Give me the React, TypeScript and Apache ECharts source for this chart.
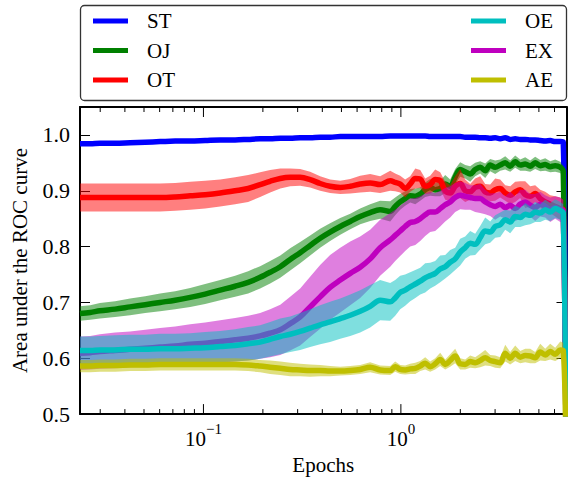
import { useEffect, useRef } from 'react';
import * as echarts from 'echarts';

// x positions (epochs), shared by every series
const epochs = [
  0.0237, 0.0267, 0.0299, 0.0357, 0.0425, 0.0507, 0.0603, 0.0719, 0.0857, 0.102,
  0.1216, 0.1447, 0.1684, 0.1937, 0.2177, 0.245, 0.275, 0.309, 0.347, 0.39,
  0.438, 0.493, 0.554, 0.622, 0.699, 0.785, 0.883, 0.936,
  0.992, 1.051, 1.115, 1.183, 1.253, 1.328, 1.407, 1.492, 1.582, 1.677,
  1.777, 1.884, 1.997, 2.117, 2.244, 2.379, 2.522, 2.674, 2.834, 3.004,
  3.185, 3.377, 3.579, 3.794, 4.022, 4.264, 4.52, 4.789, 5.08, 5.383,
  5.708, 6.048, 6.414, 6.642, 6.87,
];

const stMean = [
  0.984, 0.984, 0.985, 0.985, 0.986, 0.987, 0.988, 0.989, 0.989, 0.990,
  0.991, 0.991, 0.992, 0.993, 0.993, 0.994, 0.994, 0.995, 0.995, 0.996,
  0.996, 0.997, 0.997, 0.997, 0.997, 0.997, 0.998, 0.998,
  0.998, 0.998, 0.998, 0.998, 0.998, 0.998, 0.997, 0.997, 0.997, 0.997,
  0.997, 0.997, 0.997, 0.996, 0.996, 0.996, 0.995, 0.995, 0.994, 0.995,
  0.993, 0.995, 0.992, 0.993, 0.992, 0.992, 0.991, 0.991, 0.990, 0.989,
  0.990, 0.988, 0.988, 0.987, 0.40,
];
const stErr = [
  0.003, 0.003, 0.003, 0.003, 0.003, 0.003, 0.003, 0.003, 0.003, 0.003,
  0.003, 0.003, 0.003, 0.003, 0.003, 0.003, 0.003, 0.003, 0.003, 0.003,
  0.003, 0.003, 0.003, 0.003, 0.003, 0.003, 0.003, 0.003,
  0.003, 0.003, 0.003, 0.003, 0.003, 0.003, 0.003, 0.003, 0.003, 0.003,
  0.003, 0.003, 0.003, 0.003, 0.003, 0.003, 0.003, 0.003, 0.004, 0.003,
  0.004, 0.003, 0.004, 0.003, 0.004, 0.003, 0.004, 0.003, 0.004, 0.004,
  0.003, 0.004, 0.004, 0.004, 0,
];

const ojMean = [
  0.680, 0.682, 0.685, 0.688, 0.692, 0.696, 0.700, 0.704, 0.709, 0.715,
  0.722, 0.729, 0.736, 0.745, 0.754, 0.764, 0.777, 0.789, 0.802, 0.815,
  0.826, 0.836, 0.845, 0.854, 0.861, 0.866, 0.863, 0.872,
  0.880, 0.886, 0.891, 0.890, 0.894, 0.902, 0.906, 0.902, 0.904, 0.912,
  0.908, 0.925, 0.938, 0.934, 0.930, 0.938, 0.942, 0.936, 0.946, 0.942,
  0.946, 0.950, 0.944, 0.952, 0.946, 0.948, 0.944, 0.950, 0.945, 0.947,
  0.943, 0.945, 0.942, 0.935, 0.40,
];
const ojErr = [
  0.013, 0.013, 0.014, 0.014, 0.015, 0.015, 0.016, 0.016, 0.017, 0.018,
  0.018, 0.019, 0.020, 0.020, 0.020, 0.020, 0.020, 0.019, 0.018, 0.017,
  0.016, 0.015, 0.014, 0.014, 0.015, 0.016, 0.018, 0.016,
  0.014, 0.013, 0.012, 0.014, 0.012, 0.013, 0.015, 0.012, 0.014, 0.016,
  0.012, 0.014, 0.013, 0.012, 0.014, 0.012, 0.011, 0.013, 0.011, 0.012,
  0.010, 0.012, 0.010, 0.011, 0.010, 0.012, 0.010, 0.011, 0.010, 0.011,
  0.010, 0.011, 0.010, 0.010, 0,
];

const otMean = [
  0.888, 0.888, 0.888, 0.888, 0.888, 0.888, 0.888, 0.889, 0.891, 0.893,
  0.896, 0.900, 0.904, 0.911, 0.917, 0.922, 0.924, 0.924, 0.920, 0.913,
  0.908, 0.906, 0.908, 0.912, 0.914, 0.911, 0.918, 0.915,
  0.912, 0.904, 0.912, 0.922, 0.921, 0.908, 0.911, 0.920, 0.918, 0.900,
  0.896, 0.908, 0.913, 0.900, 0.898, 0.906, 0.908, 0.898, 0.896, 0.902,
  0.904, 0.896, 0.892, 0.898, 0.902, 0.893, 0.890, 0.895, 0.886, 0.880,
  0.876, 0.872, 0.868, 0.866, 0.40,
];
const otErr = [
  0.025, 0.025, 0.025, 0.025, 0.025, 0.025, 0.025, 0.025, 0.025, 0.025,
  0.024, 0.024, 0.024, 0.022, 0.020, 0.018, 0.016, 0.015, 0.014, 0.013,
  0.012, 0.012, 0.013, 0.015, 0.016, 0.015, 0.018, 0.016,
  0.015, 0.016, 0.014, 0.018, 0.016, 0.014, 0.016, 0.018, 0.015, 0.016,
  0.014, 0.018, 0.026, 0.020, 0.014, 0.016, 0.018, 0.014, 0.015, 0.020,
  0.016, 0.014, 0.016, 0.018, 0.015, 0.024, 0.018, 0.015, 0.016, 0.018,
  0.016, 0.018, 0.020, 0.018, 0,
];

const exMean = [
  0.609, 0.610, 0.612, 0.614, 0.616, 0.618, 0.620, 0.622, 0.625, 0.627,
  0.630, 0.633, 0.636, 0.640, 0.645, 0.651, 0.662, 0.674, 0.692, 0.710,
  0.727, 0.740, 0.752, 0.763, 0.778, 0.798, 0.812, 0.820,
  0.828, 0.836, 0.843, 0.845, 0.850, 0.857, 0.862, 0.862, 0.868, 0.875,
  0.880, 0.888, 0.892, 0.890, 0.888, 0.886, 0.886, 0.880, 0.875, 0.872,
  0.876, 0.870, 0.874, 0.868, 0.876, 0.880, 0.874, 0.870, 0.876, 0.872,
  0.866, 0.870, 0.866, 0.864, 0.40,
];
const exErr = [
  0.030, 0.030, 0.031, 0.032, 0.032, 0.033, 0.034, 0.035, 0.036, 0.037,
  0.038, 0.039, 0.040, 0.041, 0.043, 0.045, 0.048, 0.051, 0.054, 0.057,
  0.058, 0.058, 0.057, 0.055, 0.052, 0.050, 0.048, 0.046,
  0.045, 0.044, 0.043, 0.042, 0.040, 0.038, 0.036, 0.034, 0.032, 0.030,
  0.028, 0.026, 0.025, 0.024, 0.022, 0.024, 0.026, 0.022, 0.020, 0.024,
  0.022, 0.020, 0.024, 0.022, 0.026, 0.022, 0.020, 0.024, 0.022, 0.020,
  0.022, 0.020, 0.022, 0.020, 0,
];

const oeMean = [
  0.614, 0.614, 0.615, 0.615, 0.616, 0.616, 0.617, 0.617, 0.618, 0.619,
  0.621, 0.623, 0.626, 0.629, 0.634, 0.639, 0.643, 0.648, 0.654, 0.660,
  0.665, 0.671, 0.677, 0.684, 0.693, 0.704, 0.701, 0.708,
  0.718, 0.722, 0.728, 0.733, 0.738, 0.744, 0.748, 0.752, 0.760, 0.764,
  0.772, 0.778, 0.790, 0.798, 0.806, 0.804, 0.816, 0.828, 0.826, 0.836,
  0.839, 0.848, 0.844, 0.854, 0.852, 0.858, 0.856, 0.862, 0.860, 0.866,
  0.862, 0.868, 0.864, 0.860, 0.40,
];
const oeErr = [
  0.025, 0.025, 0.025, 0.026, 0.026, 0.026, 0.027, 0.027, 0.027, 0.028,
  0.028, 0.029, 0.030, 0.030, 0.031, 0.032, 0.032, 0.033, 0.034, 0.035,
  0.036, 0.036, 0.037, 0.038, 0.038, 0.036, 0.034, 0.032,
  0.030, 0.028, 0.026, 0.025, 0.024, 0.026, 0.023, 0.022, 0.024, 0.021,
  0.022, 0.020, 0.024, 0.020, 0.022, 0.019, 0.021, 0.024, 0.019, 0.020,
  0.022, 0.018, 0.020, 0.019, 0.017, 0.020, 0.016, 0.018, 0.016, 0.018,
  0.016, 0.017, 0.016, 0.016, 0,
];

const aeMean = [
  0.586, 0.586, 0.587, 0.587, 0.588, 0.588, 0.589, 0.589, 0.589, 0.589,
  0.589, 0.589, 0.588, 0.586, 0.584, 0.582, 0.580, 0.579, 0.578, 0.578,
  0.577, 0.577, 0.578, 0.580, 0.584, 0.579, 0.578, 0.585,
  0.580, 0.579, 0.581, 0.582, 0.586, 0.591, 0.585, 0.590, 0.598, 0.589,
  0.596, 0.604, 0.590, 0.589, 0.594, 0.592, 0.596, 0.601, 0.596, 0.594,
  0.592, 0.609, 0.600, 0.609, 0.602, 0.605, 0.604, 0.601, 0.611, 0.606,
  0.612, 0.607, 0.615, 0.614, 0.40,
];
const aeErr = [
  0.011, 0.011, 0.011, 0.011, 0.011, 0.011, 0.011, 0.011, 0.011, 0.011,
  0.011, 0.011, 0.011, 0.011, 0.012, 0.012, 0.012, 0.011, 0.011, 0.010,
  0.009, 0.008, 0.008, 0.008, 0.009, 0.008, 0.008, 0.009,
  0.008, 0.008, 0.009, 0.010, 0.009, 0.011, 0.009, 0.010, 0.012, 0.009,
  0.011, 0.013, 0.010, 0.009, 0.011, 0.010, 0.012, 0.014, 0.010, 0.011,
  0.010, 0.015, 0.011, 0.014, 0.011, 0.012, 0.013, 0.010, 0.015, 0.011,
  0.014, 0.012, 0.015, 0.014, 0,
];

const legendLeft = ['ST', 'OJ', 'OT'];
const legendRight = ['OE', 'EX', 'AE'];
const xMajorTicks = [0.1, 1];
const xMinorTicks = [
  0.03, 0.04, 0.05, 0.06, 0.07, 0.08, 0.09,
  0.2, 0.3, 0.4, 0.5, 0.6, 0.7, 0.8, 0.9,
  2, 3, 4, 5, 6,
];

const FONT = "'Liberation Serif', 'Times New Roman', 'DejaVu Serif', serif";

export default function App() {
  const ref = useRef<HTMLDivElement>(null);

  useEffect(() => {
    const chart = echarts.init(ref.current as HTMLDivElement, null, { renderer: 'svg' });

    const defs = [
      { name: 'ST', color: '#0000ff', band: 'rgba(0,0,255,0.5)', mean: stMean, err: stErr },
      { name: 'OJ', color: '#008000', band: 'rgba(0,128,0,0.5)', mean: ojMean, err: ojErr },
      { name: 'OT', color: '#ff0000', band: 'rgba(255,0,0,0.5)', mean: otMean, err: otErr },
      { name: 'EX', color: '#bf00bf', band: 'rgba(191,0,191,0.5)', mean: exMean, err: exErr },
      { name: 'OE', color: '#00bfbf', band: 'rgba(0,191,191,0.5)', mean: oeMean, err: oeErr },
      { name: 'AE', color: '#bfbf00', band: 'rgba(191,191,0,0.5)', mean: aeMean, err: aeErr },
    ];

    const SMOOTH = 0.35;
    const series: any[] = [];
    defs.forEach((d, k) => {
      const nBand = epochs.length - 1; // the final drop point carries no band
      series.push({
        type: 'custom',
        name: d.name + '_band',
        data: [[epochs[0], d.mean[0]]],
        silent: true,
        clip: true,
        z: 10 + 2 * k,
        renderItem: (_params: any, api: any) => {
          const pts: number[][] = [];
          for (let i = 0; i < nBand; i++) pts.push(api.coord([epochs[i], d.mean[i] + d.err[i]]));
          for (let i = nBand - 1; i >= 0; i--) pts.push(api.coord([epochs[i], d.mean[i] - d.err[i]]));
          return {
            type: 'polygon',
            shape: { points: pts },
            style: { fill: d.band, stroke: 'none' },
          };
        },
      });
      series.push({
        type: 'line',
        name: d.name,
        data: epochs.map((e, i) => [e, d.mean[i]]),
        symbol: 'none',
        smooth: SMOOTH,
        color: d.color,
        itemStyle: { color: d.color },
        lineStyle: { width: 5.5, color: d.color, join: 'round' },
        silent: true,
        z: 11 + 2 * k,
      });
    });

    const tickSeries = (ticks: number[], len: number) => ({
      type: 'custom',
      data: ticks.map((v) => [v, 0.5]),
      silent: true,
      clip: false,
      z: 60,
      renderItem: (params: any, api: any) => {
        const cs = params.coordSys;
        const px = api.coord([api.value(0), api.value(1)])[0];
        const top = cs.y;
        const bot = cs.y + cs.height;
        return {
          type: 'group',
          children: [
            { type: 'line', shape: { x1: px, y1: bot, x2: px, y2: bot - len }, style: { stroke: '#000', lineWidth: 1 } },
            { type: 'line', shape: { x1: px, y1: top, x2: px, y2: top + len }, style: { stroke: '#000', lineWidth: 1 } },
          ],
        };
      },
    });
    series.push(tickSeries(xMajorTicks, 10));
    series.push(tickSeries(xMinorTicks, 5));

    const legendCommon = {
      orient: 'vertical',
      top: 10.5,
      itemWidth: 35,
      itemHeight: 5,
      icon: 'rect',
      itemGap: 8.5,
      padding: 0,
      selectedMode: false,
      z: 100,
      itemStyle: { borderWidth: 0 },
      textStyle: { fontFamily: FONT, fontSize: 21, lineHeight: 21, color: '#000', padding: [0, 0, 0, 14] },
    };

    const spine = { show: true, onZero: false, lineStyle: { color: '#000', width: 2 } };

    chart.setOption({
      animation: false,
      textStyle: { fontFamily: FONT },
      grid: { left: 80, top: 107, width: 486.5, height: 312, containLabel: false },
      graphic: [
        {
          type: 'rect',
          shape: { x: 80.5, y: 5.5, width: 486, height: 95, r: 4 },
          style: { fill: '#fff', stroke: '#333', lineWidth: 1.3 },
          silent: true,
          z: 90,
        },
      ],
      legend: [
        { ...legendCommon, data: legendLeft, left: 93 },
        { ...legendCommon, data: legendRight, left: 471 },
      ],
      xAxis: [
        {
          type: 'log',
          logBase: 10,
          min: 0.0237,
          max: 6.9,
          position: 'bottom',
          axisLine: spine,
          axisTick: { show: false },
          minorTick: { show: false },
          splitLine: { show: false },
          axisLabel: {
            margin: 7,
            color: '#000',
            fontFamily: FONT,
            showMinLabel: false,
            showMaxLabel: false,
            formatter: (v: number) => {
              const p = Math.log10(v);
              const r = Math.round(p);
              if (Math.abs(p - r) > 1e-6) return '';
              return `{b|10}{s|${r < 0 ? '\u2212' + -r : r}}`;
            },
            rich: {
              b: { fontFamily: FONT, fontSize: 21, lineHeight: 28, verticalAlign: 'bottom', color: '#000' },
              s: { fontFamily: FONT, fontSize: 15, lineHeight: 15, verticalAlign: 'top', color: '#000' },
            },
          },
          name: 'Epochs',
          nameLocation: 'middle',
          nameGap: 38,
          nameTextStyle: { fontFamily: FONT, fontSize: 21, color: '#000' },
        },
        {
          type: 'log',
          logBase: 10,
          min: 0.0237,
          max: 6.9,
          position: 'top',
          axisLine: spine,
          axisTick: { show: false },
          axisLabel: { show: false },
          splitLine: { show: false },
        },
      ],
      yAxis: [
        {
          type: 'value',
          min: 0.5,
          max: 1.05,
          interval: 0.1,
          position: 'left',
          axisLine: spine,
          axisTick: { show: true, inside: true, length: 10, lineStyle: { color: '#000', width: 1 } },
          splitLine: { show: false },
          axisLabel: {
            margin: 10,
            color: '#000',
            fontFamily: FONT,
            fontSize: 22,
            formatter: (v: number) => (Math.abs(v * 10 - Math.round(v * 10)) > 1e-6 ? '' : v.toFixed(1)),
          },
          name: 'Area under the ROC curve',
          nameLocation: 'middle',
          nameRotate: 90,
          nameGap: 50,
          nameTextStyle: { fontFamily: FONT, fontSize: 21, color: '#000' },
        },
        {
          type: 'value',
          min: 0.5,
          max: 1.05,
          interval: 0.1,
          position: 'right',
          axisLine: spine,
          axisTick: { show: true, inside: true, length: 10, lineStyle: { color: '#000', width: 1 } },
          axisLabel: { show: false },
          splitLine: { show: false },
        },
      ],
      series,
    });

    return () => {
      chart.dispose();
    };
  }, []);

  return (
    <div
      ref={ref}
      style={{ position: 'fixed', left: 0, top: 0, width: 568, height: 480, background: '#fff' }}
    />
  );
}
